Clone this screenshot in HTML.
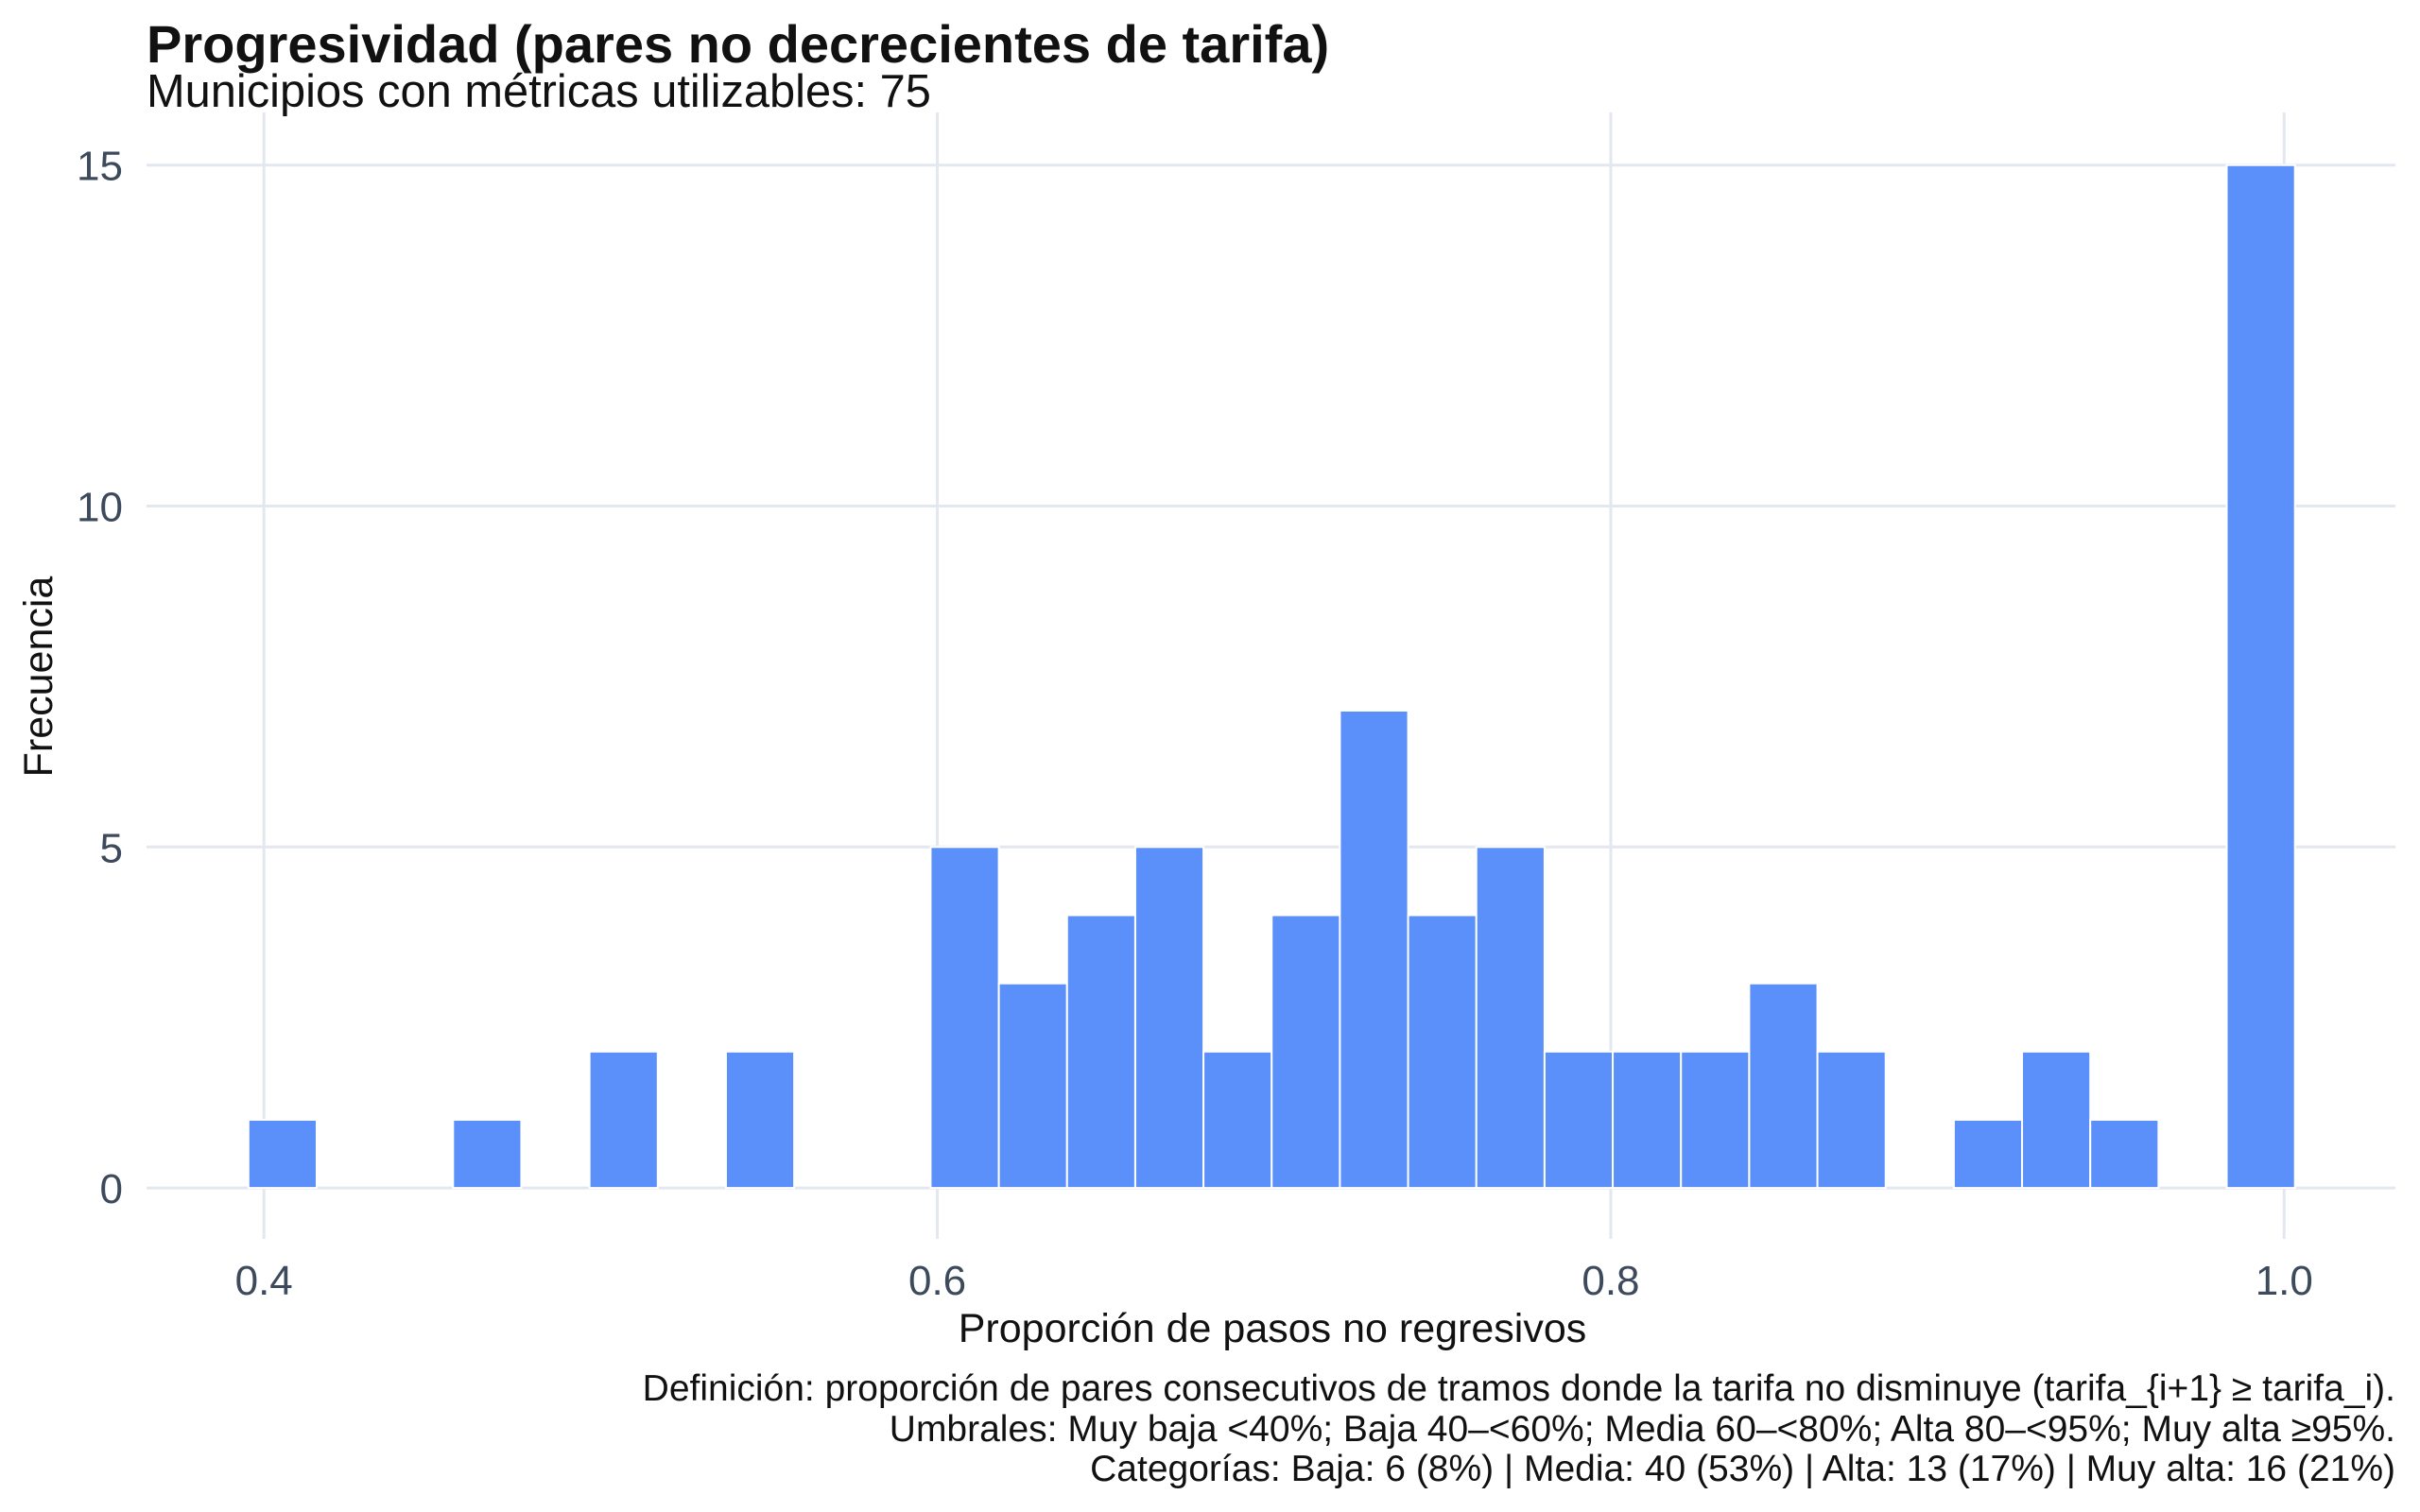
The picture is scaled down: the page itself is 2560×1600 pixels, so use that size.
<!DOCTYPE html>
<html><head><meta charset="utf-8"><style>
html,body{margin:0;padding:0;background:#fff;}
svg{display:block;font-family:"Liberation Sans",Arial,sans-serif;}
</style></head><body>
<svg id="chart" width="2560" height="1600" viewBox="0 0 2560 1600" xmlns="http://www.w3.org/2000/svg">
<rect width="2560" height="1600" fill="#fff"/>
<text x="155" y="66" font-size="56" font-weight="bold" fill="#111">Progresividad (pares no decrecientes de tarifa)</text>
<text x="155" y="113" font-size="48.8" fill="#111">Municipios con métricas utilizables: 75</text>
<g id="grid"></g>
<g id="bars"></g>
<g id="axes"></g>
<text x="1346" y="1420" font-size="43" text-anchor="middle" fill="#111">Proporción de pasos no regresivos</text>
<text transform="translate(55,716) rotate(-90)" font-size="43" text-anchor="middle" fill="#111">Frecuencia</text>
<g font-size="39" text-anchor="end" fill="#111">
<text x="2534" y="1482">Definición: proporción de pares consecutivos de tramos donde la tarifa no disminuye (tarifa_{i+1} ≥ tarifa_i).</text>
<text x="2534" y="1525">Umbrales: Muy baja &lt;40%; Baja 40–&lt;60%; Media 60–&lt;80%; Alta 80–&lt;95%; Muy alta ≥95%.</text>
<text x="2534" y="1567">Categorías: Baja: 6 (8%) | Media: 40 (53%) | Alta: 13 (17%) | Muy alta: 16 (21%)</text>
</g>
</svg>
<script>
const binStart = 0.3954;
const binWidth = 0.02026;
const counts = [1,0,0,1,0,2,0,2,0,0,5,3,4,5,2,4,7,4,5,2,2,2,3,2,0,1,2,1,0,15];
const xTicks = [0.4,0.6,0.8,1.0];
const xTickLabels = ["0.4","0.6","0.8","1.0"];
const yTicks = [0,5,10,15];
const yTickLabels = ["0","5","10","15"];

const NS="http://www.w3.org/2000/svg";
const X0=279.2, X1=2416.3, Y0=1257.1, Y15=174.7;
function xs(v){return X0+(v-0.4)/0.6*(X1-X0);}
function ys(v){return Y0+(v/15)*(Y15-Y0);}
function mk(tag,attrs,parent){const e=document.createElementNS(NS,tag);for(const k in attrs)e.setAttribute(k,attrs[k]);parent.appendChild(e);return e;}
const grid=document.getElementById('grid'),bars=document.getElementById('bars'),axes=document.getElementById('axes');
xTicks.forEach((t,i)=>{
  const l=mk('line',{x1:xs(t),x2:xs(t),y1:119,y2:1311,stroke:'#e3e8f0','stroke-width':3},grid);
  
  
  const tx=mk('text',{x:xs(t),y:1370,'font-size':44,'text-anchor':'middle',fill:'#3d4a5c'},axes);
  tx.textContent=xTickLabels[i];
  
  
});
yTicks.forEach((t,i)=>{
  const l=mk('line',{x1:155,x2:2534,y1:ys(t),y2:ys(t),stroke:'#e3e8f0','stroke-width':3},grid);
  
  
  const tx=mk('text',{x:130,y:ys(t)+16,'font-size':44,'text-anchor':'end',fill:'#3d4a5c'},axes);
  tx.textContent=yTickLabels[i];
  
  
});
counts.forEach((c,i)=>{
  if(c<=0)return;
  const a=xs(binStart+i*binWidth), b=xs(binStart+(i+1)*binWidth);
  const r=mk('rect',{x:a,y:ys(c),width:b-a,height:ys(0)-ys(c),fill:'#5b8ff9',stroke:'#fff','stroke-width':2},bars);
  
  
});
</script>
</body></html>
